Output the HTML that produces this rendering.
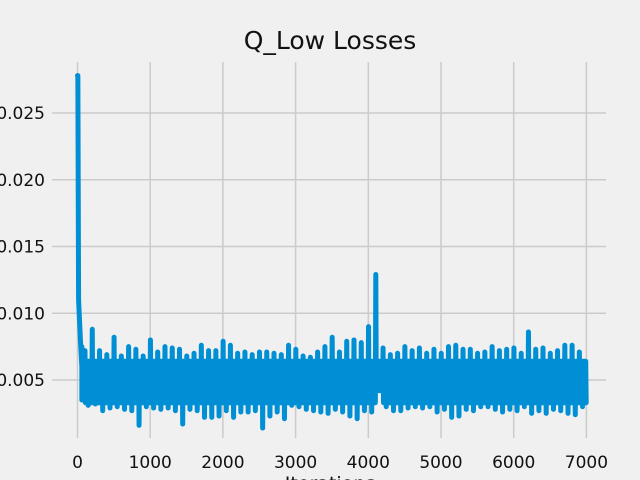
<!DOCTYPE html>
<html><head><meta charset="utf-8"><style>
html,body{margin:0;padding:0;background:#f0f0f0;}
svg{display:block;font-family:"DejaVu Sans","Liberation Sans",sans-serif;}
</style></head><body>
<svg id="chart" width="640" height="480" viewBox="0 0 640 480">
<rect x="0" y="0" width="640" height="480" fill="#f0f0f0"/>
<g id="grid"></g>
<g id="ticks"></g>
<path id="line" fill="none" stroke="#008fd5" stroke-width="5" stroke-linejoin="round" stroke-linecap="round"/>
<text x="330" y="49" text-anchor="middle" font-size="25" fill="#111">Q_Low Losses</text>
<text x="330" y="490" text-anchor="middle" font-size="19" fill="#111">Iterations</text>
</svg>
<script>
const xTicks = [0,1000,2000,3000,4000,5000,6000,7000];
const yTicks = [0.005,0.010,0.015,0.020,0.025];
const yTickLabels = ["0.005","0.010","0.015","0.020","0.025"];
const startIters = [0,5,15,40,60];
const startVals = [0.0278,0.0278,0.011,0.008,0.006];
const binIters = 100;
const binHighs = [0.0075,0.0072,0.0088,0.0072,0.0069,0.0082,0.0068,0.0075,0.0073,0.0068,0.0080,0.0071,0.0075,0.0074,0.0073,0.0068,0.0070,0.0076,0.0072,0.0072,0.0079,0.0076,0.0070,0.0071,0.0069,0.0071,0.0071,0.0070,0.0069,0.0076,0.0073,0.0068,0.0067,0.0071,0.0075,0.0082,0.0071,0.0079,0.0080,0.0078,0.0090,0.0129,0.0074,0.0069,0.0070,0.0075,0.0072,0.0074,0.0070,0.0073,0.0070,0.0075,0.0076,0.0073,0.0073,0.0070,0.0071,0.0075,0.0072,0.0073,0.0074,0.0070,0.0086,0.0073,0.0074,0.0070,0.0072,0.0076,0.0076,0.0071];
const binLows = [0.0035,0.0031,0.0032,0.0027,0.0029,0.0030,0.0028,0.0027,0.0016,0.0030,0.0029,0.0028,0.0029,0.0027,0.0017,0.0028,0.0027,0.0022,0.0022,0.0023,0.0027,0.0022,0.0026,0.0026,0.0027,0.0014,0.0023,0.0026,0.0021,0.0031,0.0030,0.0028,0.0027,0.0026,0.0025,0.0028,0.0026,0.0023,0.0021,0.0027,0.0026,0.0042,0.0030,0.0027,0.0027,0.0029,0.0030,0.0029,0.0030,0.0026,0.0028,0.0022,0.0023,0.0028,0.0027,0.0030,0.0030,0.0028,0.0026,0.0028,0.0027,0.0030,0.0025,0.0027,0.0025,0.0028,0.0027,0.0025,0.0024,0.0030];
const bandUpper = 0.0064;
const bandLower = 0.0033;

const X0 = 77.5, XS = 72.7/1000;
const Y0 = 380, YS = 66.75/0.005;
function xs(v){return X0 + v*XS;}
function ys(v){return Y0 - (v-0.005)*YS;}

const grid = document.getElementById('grid');
const ticks = document.getElementById('ticks');
const NS = 'http://www.w3.org/2000/svg';
xTicks.forEach(t=>{
  const l = document.createElementNS(NS,'line');
  l.setAttribute('x1',xs(t)); l.setAttribute('x2',xs(t));
  l.setAttribute('y1',62); l.setAttribute('y2',438);
  l.setAttribute('stroke','#cbcbcb'); l.setAttribute('stroke-width','1.5');
  
  
  grid.appendChild(l);
  const tx = document.createElementNS(NS,'text');
  tx.setAttribute('x',xs(t)); tx.setAttribute('y',468);
  tx.setAttribute('text-anchor','middle'); tx.setAttribute('font-size','17'); tx.setAttribute('fill','#111');
  tx.textContent = t;
  
  
  ticks.appendChild(tx);
});
yTicks.forEach((t,i)=>{
  const l = document.createElementNS(NS,'line');
  l.setAttribute('x1',52); l.setAttribute('x2',606);
  l.setAttribute('y1',ys(t)); l.setAttribute('y2',ys(t));
  l.setAttribute('stroke','#cbcbcb'); l.setAttribute('stroke-width','1.5');
  
  
  grid.appendChild(l);
  const tx = document.createElementNS(NS,'text');
  tx.setAttribute('x',45); tx.setAttribute('y',ys(t)+6);
  tx.setAttribute('text-anchor','end'); tx.setAttribute('font-size','17'); tx.setAttribute('fill','#111');
  tx.textContent = yTickLabels[i];
  
  
  ticks.appendChild(tx);
});

let d = '';
startIters.forEach((it,i)=>{ d += (i?'L':'M') + xs(it).toFixed(2) + ',' + ys(startVals[i]).toFixed(2); });
const seq = ['hi','bl','bu','bl','bu','bl','bu','lo','bu','bl','bu','bl','bu','bl','bu','bl'];
binHighs.forEach((h,i)=>{
  const lo = binLows[i];
  seq.forEach((s,k)=>{
    const it = Math.max(60, i*binIters + (k+0.5)*binIters/seq.length);
    let v = s==='hi'?h : s==='lo'?lo : s==='bu'?Math.min(bandUpper,h):Math.max(bandLower,lo);
    d += 'L' + xs(it).toFixed(2) + ',' + ys(v).toFixed(2);
  });
});
document.getElementById('line').setAttribute('d', d);
</script>
</body></html>
